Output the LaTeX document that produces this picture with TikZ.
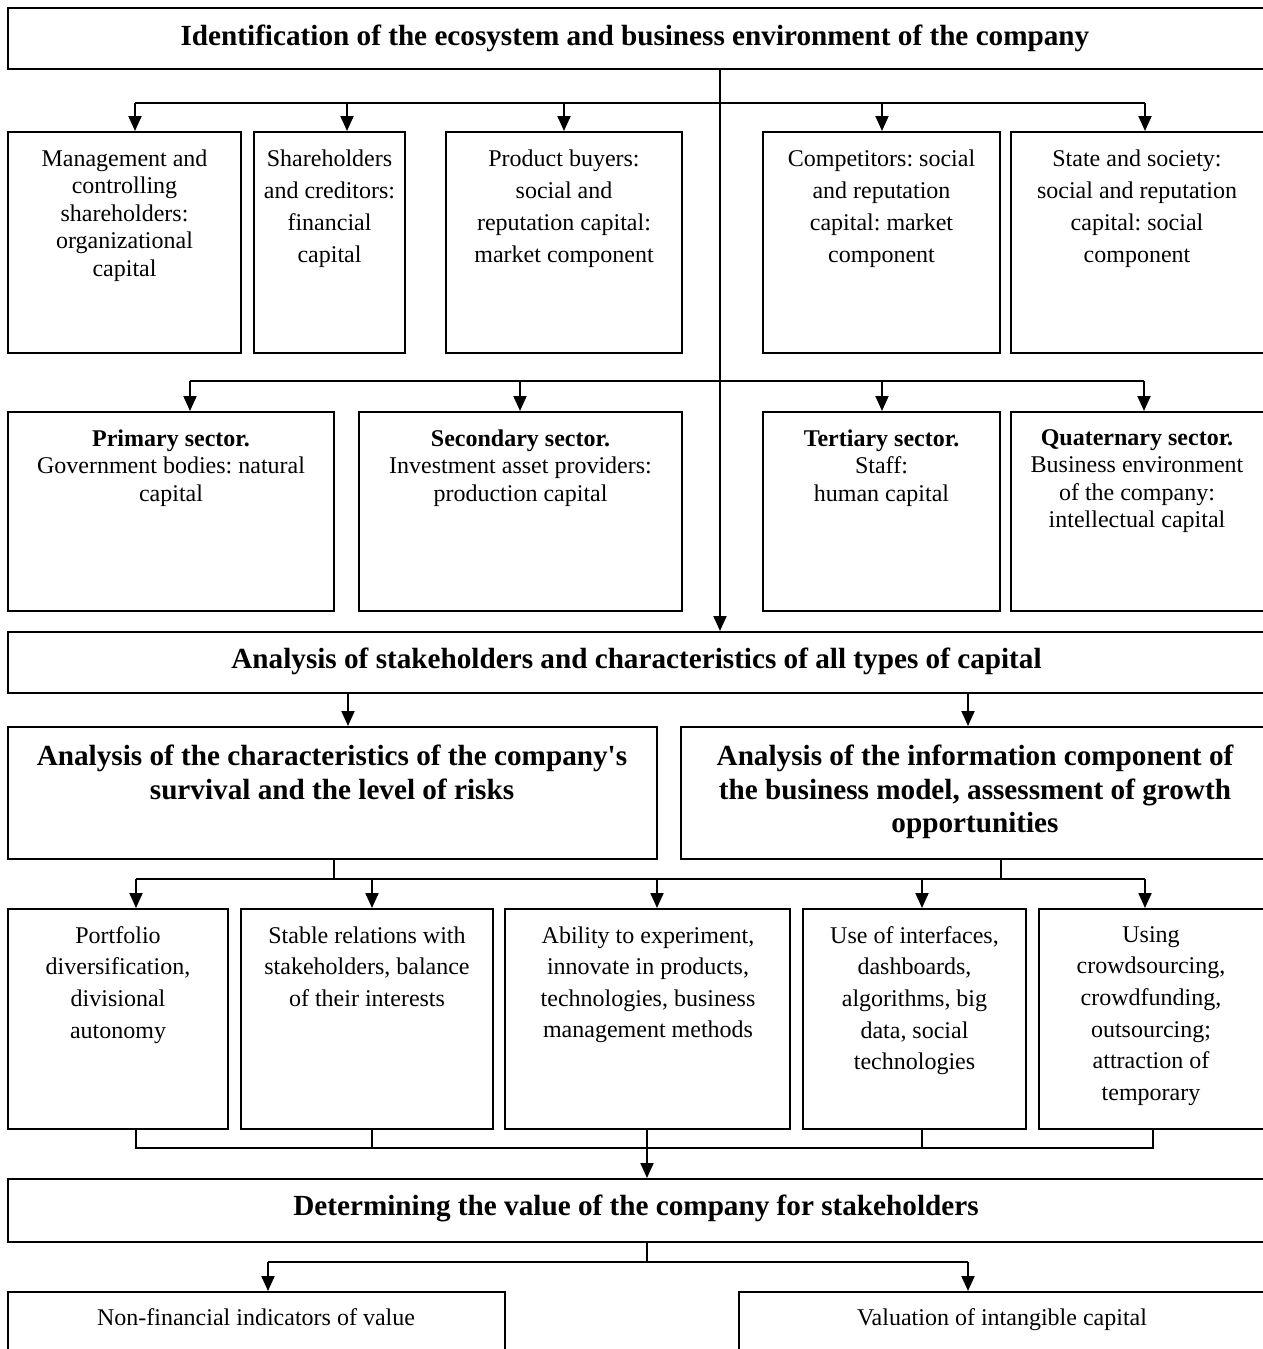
\documentclass[tikz,border=0pt]{standalone}
\usepackage{fontspec}
\setmainfont{Liberation Serif}
\usetikzlibrary{arrows.meta,fit}
\frenchspacing
\begin{document}
\begin{tikzpicture}[x=0.5pt,y=-0.5pt,
  box/.style={draw, line width=1pt, inner sep=0pt},
  txt/.style={align=center, inner sep=0pt, anchor=north, font=\fontsize{12pt}{16pt}\selectfont},
  tight/.style={font=\fontsize{12pt}{13.75pt}\selectfont},
  mid/.style={font=\fontsize{12pt}{15.8pt}\selectfont},
  head/.style={font=\bfseries\fontsize{14.6pt}{16.75pt}\selectfont},
  plain/.style={inner sep=0pt, anchor=base, font=\fontsize{12pt}{14pt}\selectfont},
  conn/.style={line width=1pt},
  thin/.style={line width=0.75pt},
  arr/.style={conn, -{Triangle[length=7.5pt,width=6.5pt]}}]
\useasboundingbox (0,0) rectangle (1263,1349);
\clip (0,0) rectangle (1263,1349);

% ---------- top ----------
\node[box, fit={(8,8) (1265,69)}] (top) {};
\node[head, inner sep=0pt] (topt) at (635,38) {Identification of the ecosystem and business environment of the company};

% ---------- row 1 ----------
\node[box, fit={(8,132) (241,353)}] (b11) {};
\node[box, fit={(254,132) (405,353)}] (b12) {};
\node[box, fit={(446,132) (682,353)}] (b13) {};
\node[box, fit={(763,132) (1000,353)}] (b14) {};
\node[box, fit={(1011,132) (1265,353)}] (b15) {};
\node[txt, tight] (t11) at (124.5,149) {Management and\\controlling\\shareholders:\\organizational\\capital};
\node[txt] (t12) at (329.5,149) {Shareholders\\and creditors:\\financial\\capital};
\node[txt] (t13) at (564,149) {Product buyers:\\social and\\reputation capital:\\market component};
\node[txt] (t14) at (881.5,149) {Competitors: social\\and reputation\\capital: market\\component};
\node[txt] (t15) at (1137,149) {State and society:\\social and reputation\\capital: social\\component};

% ---------- row 2 ----------
\node[box, fit={(8,412) (334,611)}] (b21) {};
\node[box, fit={(359,412) (682,611)}] (b22) {};
\node[box, fit={(763,412) (1000,611)}] (b23) {};
\node[box, fit={(1011,412) (1265,611)}] (b24) {};
\node[txt, tight] (t21) at (171,429) {\textbf{Primary sector.}\\Government bodies: natural\\capital};
\node[txt, tight] (t22) at (520.5,429) {\textbf{Secondary sector.}\\Investment asset providers:\\production capital};
\node[txt, tight] (t23) at (881.5,429) {\textbf{Tertiary sector.}\\Staff:\\human capital};
\node[txt, tight] (t24) at (1137,429) {\textbf{Quaternary sector.}\\Business environment\\of the company:\\intellectual capital};

% ---------- analysis ----------
\node[box, fit={(8,632) (1265,693)}] (ana) {};
\node[head, inner sep=0pt] (anat) at (636.5,661) {Analysis of stakeholders and characteristics of all types of capital};

\node[box, fit={(8,727) (657,859)}] (L) {};
\node[box, fit={(681,727) (1265,859)}] (R) {};
\node[txt, head] (Lt) at (332,745) {Analysis of the characteristics of the company\textquotesingle s\\survival and the level of risks};
\node[txt, head] (Rt) at (975,745) {Analysis of the information component of\\the business model, assessment of growth\\opportunities};

% ---------- row 3 ----------
\node[box, fit={(8,909) (228,1129)}] (c1) {};
\node[box, fit={(241,909) (493,1129)}] (c2) {};
\node[box, fit={(505,909) (790,1129)}] (c3) {};
\node[box, fit={(803,909) (1026,1129)}] (c4) {};
\node[box, fit={(1039,909) (1265,1129)}] (c5) {};
\node[txt, mid] (u1) at (118,926) {Portfolio\\diversification,\\divisional\\autonomy};
\node[txt, mid] (u2) at (367,926) {Stable relations with\\stakeholders, balance\\of their interests};
\node[txt, mid] (u3) at (648,926) {Ability to experiment,\\innovate in products,\\technologies, business\\management methods};
\node[txt, mid] (u4) at (914.5,926) {Use of interfaces,\\dashboards,\\algorithms, big\\data, social\\technologies};
\node[txt, mid] (u5) at (1151,926) {Using\\crowdsourcing,\\crowdfunding,\\outsourcing;\\attraction of\\temporary};

% ---------- determining ----------
\node[box, fit={(8,1179) (1265,1242)}] (det) {};
\node[head, inner sep=0pt] (dett) at (636,1208) {Determining the value of the company for stakeholders};

\node[box, fit={(8,1292) (505,1370)}] (n1) {};
\node[box, fit={(739,1292) (1265,1370)}] (n2) {};
\node[plain] (n1t) at (256,1325) {Non-financial indicators of value};
\node[plain] (n2t) at (1002,1325) {Valuation of intangible capital};

% ---------- connectors ----------
\coordinate (j1) at (720,103);
\draw[arr] (top.south -| j1) -- (ana.north -| j1);

\coordinate (p11) at (135,103);
\coordinate (p12) at (347,103);
\coordinate (p13) at (564,103);
\coordinate (p14) at (882,103);
\coordinate (p15) at (1145,103);
\draw[conn] (p11) -- (p15);
\draw[arr] (p11) -- (p11 |- b11.north);
\draw[arr] (p12) -- (p12 |- b12.north);
\draw[arr] (p13) -- (p13 |- b13.north);
\draw[arr] (p14) -- (p14 |- b14.north);
\draw[arr] (p15) -- (p15 |- b15.north);

\coordinate (p21) at (190,381);
\coordinate (p22) at (520,381);
\coordinate (p23) at (882,381);
\coordinate (p24) at (1144,381);
\draw[conn] (p21) -- (p24);
\draw[arr] (p21) -- (p21 |- b21.north);
\draw[arr] (p22) -- (p22 |- b22.north);
\draw[arr] (p23) -- (p23 |- b23.north);
\draw[arr] (p24) -- (p24 |- b24.north);

\coordinate (p31) at (348,710);
\coordinate (p32) at (968,710);
\draw[arr] (ana.south -| p31) -- (L.north -| p31);
\draw[arr] (ana.south -| p32) -- (R.north -| p32);

\coordinate (f1) at (334,879);
\coordinate (f2) at (1001,879);
\coordinate (q1) at (136,879);
\coordinate (q2) at (372,879);
\coordinate (q3) at (657,879);
\coordinate (q4) at (922,879);
\coordinate (q5) at (1145,879);
\draw[conn] (L.south -| f1) -- (f1);
\draw[conn] (R.south -| f2) -- (f2);
\draw[conn] (q1) -- (q5);
\draw[arr] (q1) -- (q1 |- c1.north);
\draw[arr] (q2) -- (q2 |- c2.north);
\draw[arr] (q3) -- (q3 |- c3.north);
\draw[arr] (q4) -- (q4 |- c4.north);
\draw[arr] (q5) -- (q5 |- c5.north);

\coordinate (r1) at (136,1148);
\coordinate (r2) at (372,1148);
\coordinate (r3) at (647,1148);
\coordinate (r4) at (922,1148);
\coordinate (r5) at (1153,1148);
\draw[thin] (c1.south -| r1) -- (r1) -- (r5) -- (c5.south -| r5);
\draw[thin] (c2.south -| r2) -- (r2);
\draw[thin] (c4.south -| r4) -- (r4);
\draw[arr] (c3.south -| r3) -- (det.north -| r3);

\coordinate (s0) at (647,1262);
\coordinate (s1) at (268,1262);
\coordinate (s2) at (968,1262);
\draw[thin] (det.south -| s0) -- (s0);
\draw[thin] (s1) -- (s2);
\draw[arr] (s1) -- (s1 |- n1.north);
\draw[arr] (s2) -- (s2 |- n2.north);
\end{tikzpicture}
\end{document}
